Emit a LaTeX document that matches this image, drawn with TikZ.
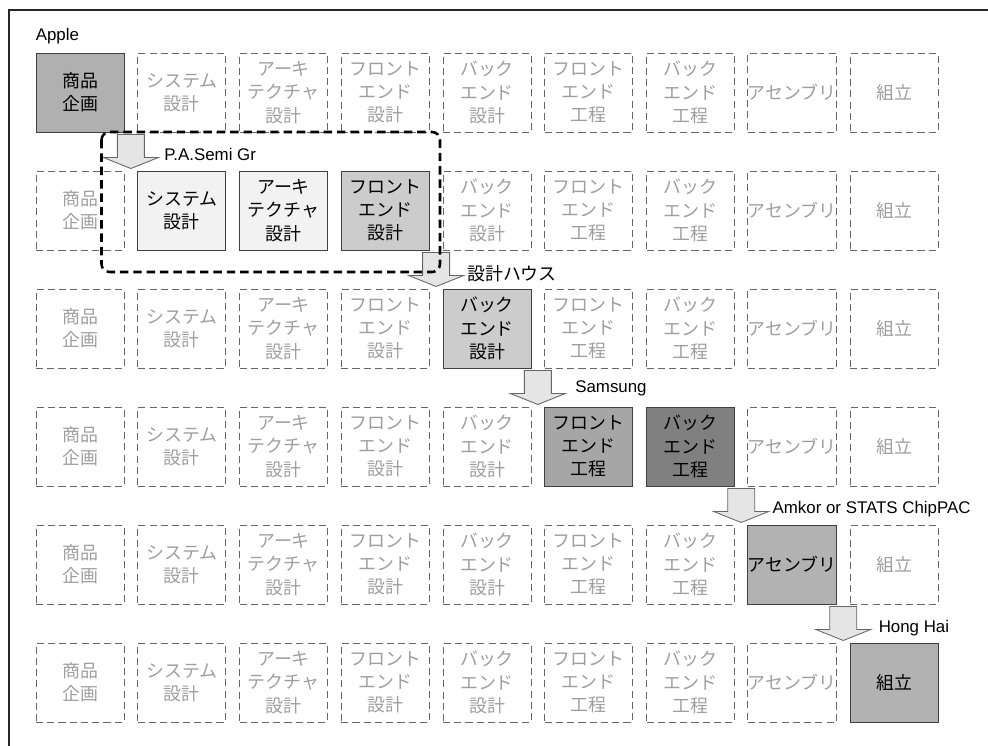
\documentclass[tikz,border=0pt]{standalone}
\usepackage{fontspec}
\setmainfont{Liberation Sans}
\newfontfamily\jp{Noto Sans CJK JP}
\usetikzlibrary{calc}

\tikzset{
  stage/.style={draw=black!75, line width=0.7pt, minimum width=2.2cm, minimum height=1.975cm,
    inner sep=0pt, align=center, font=\jp\fontsize{12.75}{16.5}\selectfont, text=black},
  ghost/.style={stage, draw=black!60, line width=0.6pt, dash pattern=on 5pt off 3pt, text=black!38},
  company/.style={inner sep=0pt, anchor=west, font=\fontsize{12}{14}\selectfont},
  flow/.style={draw=black!60, fill=black!10, line width=0.6pt},
  group/.style={draw=black, line width=1.8pt, dash pattern=on 6pt off 3.5pt, rounded corners=0.2cm},
}

% block arrow pointing down, centred on #1
\newcommand{\flowarrow}[1]{%
  \draw[flow, shift={(#1)}] (-0.3375,0.425) -- (0.3375,0.425) -- (0.3375,-0.15) -- (0.6875,-0.15)
    -- (0,-0.425) -- (-0.6875,-0.15) -- (-0.3375,-0.15) -- cycle;}

\begin{document}
\begin{tikzpicture}
  \useasboundingbox (0,0) rectangle (24.7,-18.65);

  % Frame
  \draw[black!85, line width=0.8pt] (0.225,-18.65) -- (0.225,-0.25) -- (24.7,-0.25);

  % Grid positions
  \foreach \r in {1,...,6}
    \foreach \c in {1,...,9}
      \coordinate (p\r-\c) at ({2.0+(\c-1)*2.54375}, {-2.3125-(\r-1)*2.95});

  % Idle steps (dashed)
  \foreach \r/\lo/\hi in {1/1/1, 2/2/4, 3/5/5, 4/6/7, 5/8/8, 6/9/9}
    \foreach \c/\txt in {1/{商品\\企画}, 2/{システム\\設計}, 3/{アーキ\\テクチャ\\設計},
        4/{フロント\\エンド\\設計}, 5/{バック\\エンド\\設計}, 6/{フロント\\エンド\\工程},
        7/{バック\\エンド\\工程}, 8/{アセンブリ}, 9/{組立}} {
      \pgfmathtruncatemacro\isact{(\c>=\lo)&&(\c<=\hi)}
      \ifnum\isact=0
        \node[ghost] (g\r-\c) at (p\r-\c) {\txt};
      \fi
    }

  % Active steps
  \node[stage, fill=black!31] (plan) at (p1-1) {商品\\企画};
  \node[stage, fill=black!5] (sysd) at (p2-2) {システム\\設計};
  \node[stage, fill=black!5] (archd) at (p2-3) {アーキ\\テクチャ\\設計};
  \node[stage, fill=black!20] (frontd) at (p2-4) {フロント\\エンド\\設計};
  \node[stage, fill=black!20] (backd) at (p3-5) {バック\\エンド\\設計};
  \node[stage, fill=black!35] (frontp) at (p4-6) {フロント\\エンド\\工程};
  \node[stage, fill=black!50] (backp) at (p4-7) {バック\\エンド\\工程};
  \node[stage, fill=black!30] (asm) at (p5-8) {アセンブリ};
  \node[stage, fill=black!30] (final) at (p6-9) {組立};

  % Hand-over arrows
  \coordinate (stepA) at ($(plan.south east)!.5!(sysd.north west)$);
  \coordinate (stepB) at ($(frontd.south east)!.5!(backd.north west)$);
  \coordinate (stepC) at ($(backd.south east)!.5!(frontp.north west)$);
  \coordinate (stepD) at ($(backp.south east)!.5!(asm.north west)$);
  \coordinate (stepE) at ($(asm.south east)!.5!(final.north west)$);
  \flowarrow{stepA}
  \flowarrow{stepB}
  \flowarrow{stepC}
  \flowarrow{stepD}
  \flowarrow{stepE}

  % Companies
  \node[company, anchor=south west] (labApple) at ([yshift=0.2cm]plan.north west) {Apple};
  \node[company] (labPA) at ([xshift=0.83cm, yshift=-0.08cm]stepA) {P.A.Semi Gr};
  \node[company, font=\jp\fontsize{12.75}{14}\selectfont] (labDH) at ([xshift=0.77cm, yshift=-0.11cm]stepB) {設計ハウス};
  \node[company] (labSam) at ([xshift=0.93cm, yshift=-0.03cm]stepC) {Samsung};
  \node[company] (labAmk) at ([xshift=0.78cm, yshift=-0.08cm]stepD) {Amkor or STATS ChipPAC};
  \node[company] (labHH) at ([xshift=0.88cm, yshift=-0.11cm]stepE) {Hong Hai};

  % P.A.Semi group
  \draw[group] (2.5375,-3.3) rectangle (11.0,-6.8);
\end{tikzpicture}
\end{document}
